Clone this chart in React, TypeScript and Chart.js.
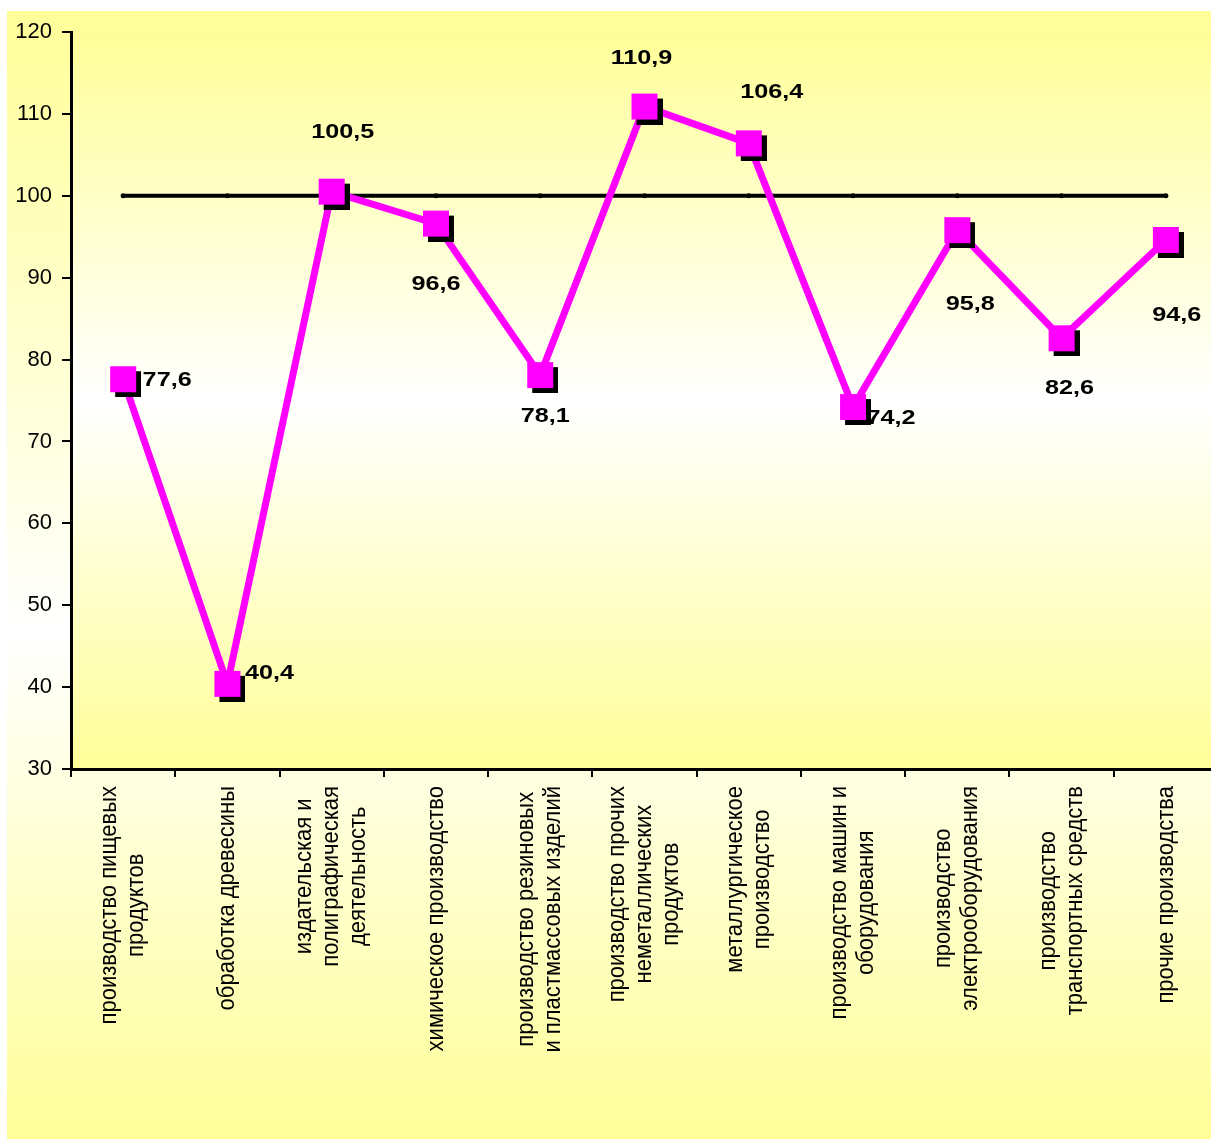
import React, { useEffect, useRef } from "react";
import { Chart, registerables } from "chart.js";
Chart.register(...registerables);

// ---- data ----
const categories: string[][] = [
  ["производство пищевых", "продуктов"],
  ["обработка древесины"],
  ["издательская и", "полиграфическая", "деятельность"],
  ["химическое производство"],
  ["производство резиновых", "и пластмассовых изделий"],
  ["производство прочих", "неметаллических", "продуктов"],
  ["металлургическое", "производство"],
  ["производство машин и", "оборудования"],
  ["производство", "электрооборудования"],
  ["производство", "транспортных средств"],
  ["прочие производства"],
];
const values = [77.6, 40.4, 100.5, 96.6, 78.1, 110.9, 106.4, 74.2, 95.8, 82.6, 94.6];
const valueLabels = ["77,6", "40,4", "100,5", "96,6", "78,1", "110,9", "106,4", "74,2", "95,8", "82,6", "94,6"];
const baseline = [100, 100, 100, 100, 100, 100, 100, 100, 100, 100, 100];
const yMin = 30;
const yMax = 120;
const yStep = 10;

// label placement (pixel offsets from each point, as in the original layout)
const labelOffsets: [number, number][] = [
  [44, 1], [42, -11], [11, -59], [0, 61], [5, 41], [-3, -48],
  [23, -51], [38, 11], [13, 74], [8, 50], [11, 75],
];

const W = 1220;
const H = 1140;
const FONT = '"Liberation Sans", Arial, sans-serif';
const YELLOW = "#FFFF99";

function makeMarker(): HTMLCanvasElement {
  const c = document.createElement("canvas");
  c.width = 36;
  c.height = 36;
  const g = c.getContext("2d")!;
  g.fillStyle = "#000000";
  g.fillRect(10, 10, 26, 26);
  g.fillStyle = "#FF00FF";
  g.fillRect(5, 5, 26, 26);
  return c;
}

const bgPlugin = {
  id: "bgPlugin",
  beforeDraw(chart: any) {
    const ctx = chart.ctx as CanvasRenderingContext2D;
    ctx.save();
    ctx.fillStyle = "#FFFFFF";
    ctx.fillRect(0, 0, chart.width, chart.height);
    const top = 11, bottom = 1139;
    const g = ctx.createLinearGradient(0, top, 0, bottom);
    g.addColorStop(0, YELLOW);
    g.addColorStop(0.55, "#FFFFFF");
    g.addColorStop(1, YELLOW);
    ctx.fillStyle = g;
    ctx.fillRect(7, top, chart.width - 7, bottom - top);
    const a = chart.chartArea;
    const g2 = ctx.createLinearGradient(0, a.top, 0, a.bottom);
    g2.addColorStop(0, YELLOW);
    g2.addColorStop(0.5, "#FFFFFF");
    g2.addColorStop(1, YELLOW);
    ctx.fillStyle = g2;
    ctx.fillRect(a.left, a.top, a.right - a.left, a.bottom - a.top);
    ctx.restore();
  },
};

const textPlugin = {
  id: "textPlugin",
  afterDraw(chart: any) {
    const ctx = chart.ctx as CanvasRenderingContext2D;
    const xs = chart.scales.x;
    const ys = chart.scales.y;
    // category labels, rotated, lines centred
    ctx.save();
    ctx.fillStyle = "#000000";
    ctx.font = `22px ${FONT}`;
    const topY = chart.chartArea.bottom + 17;
    categories.forEach((lines, i) => {
      const x = xs.getPixelForValue(i);
      const maxW = Math.max(...lines.map((l) => ctx.measureText(l).width));
      ctx.save();
      ctx.translate(x, topY);
      ctx.rotate(-Math.PI / 2);
      ctx.textAlign = "center";
      ctx.textBaseline = "middle";
      lines.forEach((l, j) => {
        ctx.save();
        ctx.translate(-maxW / 2, (j - (lines.length - 1) / 2) * 27);
        ctx.scale(1, 1.1);
        ctx.fillText(l, 0, 0);
        ctx.restore();
      });
      ctx.restore();
    });
    ctx.restore();
    // value labels
    ctx.save();
    ctx.fillStyle = "#000000";
    ctx.font = `bold 21px ${FONT}`;
    ctx.textAlign = "center";
    ctx.textBaseline = "middle";
    values.forEach((v, i) => {
      const px = xs.getPixelForValue(i) + labelOffsets[i][0];
      const py = ys.getPixelForValue(v) + labelOffsets[i][1];
      ctx.save();
      ctx.translate(px, py);
      ctx.scale(1.2, 1);
      ctx.fillText(valueLabels[i], 0, 0);
      ctx.restore();
    });
    ctx.restore();
  },
};

export default function App() {
  const ref = useRef<HTMLCanvasElement | null>(null);
  useEffect(() => {
    if (!ref.current) return;
    const marker = makeMarker();
    const chart = new Chart(ref.current, {
      type: "line",
      data: {
        labels: categories.map((c) => c.join(" ")),
        datasets: [
          {
            data: values,
            borderColor: "#FF00FF",
            borderWidth: 7,
            tension: 0,
            pointStyle: marker as any,
            pointRadius: 13,
            pointHoverRadius: 13,
            clip: false as any,
          },
          {
            data: baseline,
            borderColor: "#000000",
            borderWidth: 4,
            tension: 0,
            pointRadius: 2.5,
            pointBackgroundColor: "#000000",
            pointBorderColor: "#000000",
            pointBorderWidth: 0,
          },
        ],
      },
      options: {
        animation: false,
        responsive: false,
        devicePixelRatio: 1,
        layout: { autoPadding: false, padding: { left: 0, right: 2, top: 32, bottom: 0 } },
        plugins: {
          legend: { display: false },
          tooltip: { enabled: false },
        },
        scales: {
          x: {
            type: "category",
            offset: true,
            grid: {
              display: true,
              offset: true,
              drawOnChartArea: false,
              drawTicks: true,
              tickLength: 8,
              color: "#000000",
              lineWidth: 2,
            },
            border: { display: true, color: "#000000", width: 3 },
            ticks: { display: false },
            afterFit: (s: any) => {
              s.height = 371;
            },
          },
          y: {
            min: yMin,
            max: yMax,
            grid: {
              display: true,
              drawOnChartArea: false,
              drawTicks: true,
              tickLength: 9,
              color: "#000000",
              lineWidth: 2,
            },
            border: { display: true, color: "#000000", width: 3 },
            ticks: {
              stepSize: yStep,
              color: "#000000",
              padding: 10,
              font: { family: FONT, size: 22 },
            },
            afterFit: (s: any) => {
              s.width = 71;
            },
          },
        },
      },
      plugins: [bgPlugin, textPlugin],
    });
    return () => chart.destroy();
  }, []);
  return (
    <canvas
      ref={ref}
      width={W}
      height={H}
      style={{ position: "fixed", left: 0, top: 0, display: "block", width: W, height: H }}
    />
  );
}
